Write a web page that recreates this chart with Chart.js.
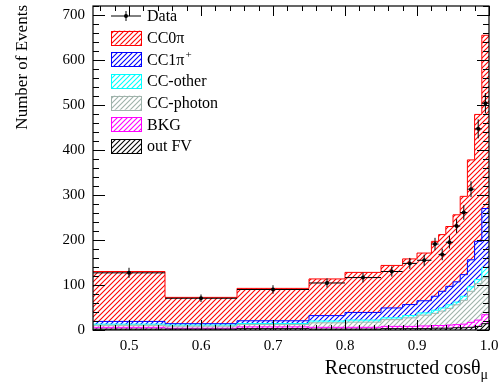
<!DOCTYPE html>
<html>
<head>
<meta charset="utf-8">
<script src="https://cdn.jsdelivr.net/npm/chart.js@4.4.1/dist/chart.umd.min.js"></script>
<style>
  html, body { margin: 0; padding: 0; background: #fff; }
</style>
</head>
<body>
<canvas id="c" width="501" height="385"></canvas>
<script>
// bin edges of the reconstructed cos(theta_mu) histogram
const binEdges = [0.45, 0.55, 0.65, 0.75, 0.80, 0.85, 0.88, 0.90, 0.92, 0.93, 0.94, 0.95, 0.96, 0.97, 0.98, 0.99, 1.00];

// MC components per bin (stacked bottom -> top)
const outFV    = [2, 2, 3, 2, 2, 3, 3, 3, 4, 4, 4, 5, 5, 6, 8, 14];
const bkg      = [4, 2, 4, 4, 4, 5, 5, 6, 6, 6, 7, 7, 8, 11, 14, 20];
const ccPhoton = [4.5, 4.5, 5, 10, 11.5, 15, 19, 24, 27, 32, 37, 44, 53, 69, 81, 82];
const ccOther  = [2.5, 2.5, 2.5, 4, 4.5, 4, 5, 5, 7, 7, 8, 6, 9, 10, 9, 23];
const cc1pi    = [6, 3, 6, 12, 17, 22, 24.5, 27, 31, 37, 41, 45, 48, 60, 85, 131];
const cc0pi    = [111, 58.5, 72, 81.5, 89, 94.5, 101.5, 106, 122, 126, 133, 149, 174, 222, 282, 385];

// observed events per bin
const dataCounts = [127, 70.5, 90, 104.5, 116.5, 130, 148, 155, 191, 168, 195, 231, 261, 313, 447, 504];

const xTicks = [0.5, 0.6, 0.7, 0.8, 0.9, 1.0];
const yTicks = [0, 100, 200, 300, 400, 500, 600, 700];

const FONT = "'Liberation Serif', 'Times New Roman', serif";

function hatch(color) {
  const t = document.createElement("canvas")
  t.width = 5
  t.height = 5
  const g = t.getContext("2d")
  g.strokeStyle = color
  g.lineWidth = 1.1
  g.beginPath()
  g.moveTo(-1, 6); g.lineTo(6, -1)
  g.moveTo(-1, 1); g.lineTo(1, -1)
  g.moveTo(4, 6); g.lineTo(6, 4)
  g.stroke()
  return g.createPattern(t, "repeat")
}

const components = [
  { label: "out FV",    vals: outFV,    color: "#000000" },
  { label: "BKG",       vals: bkg,      color: "#ff00ff" },
  { label: "CC-photon", vals: ccPhoton, color: "#9fb3ab" },
  { label: "CC-other",  vals: ccOther,  color: "#00ffff" },
  { label: "CC1π",      vals: cc1pi,    color: "#0000ff", sup: "+" },
  { label: "CC0π",      vals: cc0pi,    color: "#ff0000" },
]

const nBins = binEdges.length - 1
const running = new Array(nBins).fill(0)
const datasets = components.map((c, k) => {
  for (let i = 0; i < nBins; i++) running[i] += c.vals[i]
  const cum = running.slice()
  c.pattern = hatch(c.color)
  return {
    label: c.label,
    data: binEdges.map((e, i) => ({ x: e, y: cum[Math.min(i, nBins - 1)] })),
    stepped: true,
    borderColor: c.color,
    borderWidth: 1,
    backgroundColor: c.pattern,
    fill: k === 0 ? "origin" : "-1",
    pointRadius: 0,
    tension: 0,
  }
})

const centers = dataCounts.map((v, i) => (binEdges[i] + binEdges[i + 1]) / 2)
datasets.push({
  label: "Data",
  data: dataCounts.map((v, i) => ({ x: centers[i], y: v })),
  showLine: false,
  pointRadius: 2,
  pointBackgroundColor: "#000",
  pointBorderColor: "#000",
  borderWidth: 0,
  order: -1,
})

const rootStyle = {
  id: "rootStyle",
  afterDatasetsDraw(chart) {
    const { ctx, scales: { x, y } } = chart
    ctx.save()
    ctx.strokeStyle = "#000"
    ctx.lineWidth = 1
    dataCounts.forEach((v, i) => {
      const err = Math.sqrt(v)
      const px = x.getPixelForValue(centers[i])
      const py = y.getPixelForValue(v)
      ctx.beginPath()
      ctx.moveTo(x.getPixelForValue(binEdges[i]), py)
      ctx.lineTo(x.getPixelForValue(binEdges[i + 1]), py)
      ctx.moveTo(px, y.getPixelForValue(v - err))
      ctx.lineTo(px, y.getPixelForValue(v + err))
      ctx.stroke()
    })
    ctx.restore()
  },
  afterDraw(chart) {
    const { ctx, chartArea: a, scales: { x, y } } = chart
    ctx.save()
    ctx.strokeStyle = "#000"
    ctx.lineWidth = 1.2
    ctx.strokeRect(a.left, a.top, a.right - a.left, a.bottom - a.top)

    // inward ticks on all four sides
    ctx.lineWidth = 1
    ctx.beginPath()
    for (let v = 0; v <= 720; v += 20) {
      const py = Math.round(y.getPixelForValue(v)) + 0.5
      const len = v % 100 === 0 ? 12 : 6
      ctx.moveTo(a.left, py); ctx.lineTo(a.left + len, py)
      ctx.moveTo(a.right, py); ctx.lineTo(a.right - len, py)
    }
    for (let k = 23; k <= 50; k++) {
      const px = Math.round(x.getPixelForValue(k * 0.02)) + 0.5
      const len = k % 5 === 0 ? 10 : 5
      ctx.moveTo(px, a.bottom); ctx.lineTo(px, a.bottom - len)
      ctx.moveTo(px, a.top); ctx.lineTo(px, a.top + len)
    }
    ctx.stroke()

    // axis titles
    ctx.fillStyle = "#000"
    ctx.font = "17px " + FONT
    ctx.save()
    ctx.translate(23, 5)
    ctx.rotate(-Math.PI / 2)
    ctx.textAlign = "right"
    ctx.textBaseline = "middle"
    ctx.fillText("Number of Events", 0, 0)
    ctx.restore()

    const main = "Reconstructed cosθ"
    ctx.font = "20px " + FONT
    const w1 = ctx.measureText(main).width
    ctx.font = "14px " + FONT
    const w2 = ctx.measureText("μ").width
    const x0 = a.right - 1 - w1 - w2
    ctx.textAlign = "left"
    ctx.textBaseline = "alphabetic"
    ctx.font = "20px " + FONT
    ctx.fillText(main, x0, 374)
    ctx.font = "14px " + FONT
    ctx.fillText("μ", x0 + w1, 379)

    // legend
    const bx = 111, bw = 30, bh = 14, tx = 147, dy = 21.67
    let ry = 16
    ctx.beginPath()
    ctx.moveTo(bx, ry); ctx.lineTo(bx + bw, ry)
    ctx.moveTo(bx + bw / 2, ry - 5); ctx.lineTo(bx + bw / 2, ry + 5)
    ctx.stroke()
    ctx.beginPath()
    ctx.arc(bx + bw / 2, ry, 2, 0, Math.PI * 2)
    ctx.fill()
    ctx.font = "16px " + FONT
    ctx.textBaseline = "middle"
    ctx.fillText("Data", tx, ry + 1)
    components.slice().reverse().forEach((c) => {
      ry += dy
      ctx.fillStyle = c.pattern
      ctx.fillRect(bx, ry - bh / 2, bw, bh)
      ctx.strokeStyle = c.color
      ctx.strokeRect(bx + 0.5, Math.round(ry - bh / 2) + 0.5, bw, bh)
      ctx.fillStyle = "#000"
      ctx.font = "16px " + FONT
      ctx.fillText(c.label, tx, ry + 1)
      if (c.sup) {
        const w = ctx.measureText(c.label).width
        ctx.font = "11px " + FONT
        ctx.fillText(c.sup, tx + w + 1, ry - 4)
      }
    })
    ctx.restore()
  },
}

new Chart(document.getElementById("c"), {
  type: "line",
  data: { datasets },
  options: {
    responsive: false,
    animation: false,
    layout: { padding: { left: 0, right: 12, top: 6, bottom: 0 } },
    plugins: { legend: { display: false }, tooltip: { enabled: false } },
    scales: {
      x: {
        type: "linear",
        min: 0.45,
        max: 1.0,
        grid: { display: false, drawTicks: false },
        border: { display: false },
        afterBuildTicks: (s) => { s.ticks = xTicks.map((v) => ({ value: v })) },
        afterFit: (s) => { s.height = 55; s.paddingLeft = 0; s.paddingRight = 0 },
        ticks: {
          color: "#000",
          padding: 7,
          maxRotation: 0,
          font: { family: FONT, size: 15 },
          callback: (v) => Number(v).toFixed(1),
        },
      },
      y: {
        min: 0,
        max: 720,
        grid: { display: false, drawTicks: false },
        border: { display: false },
        afterBuildTicks: (s) => { s.ticks = yTicks.map((v) => ({ value: v })) },
        afterFit: (s) => { s.width = 93; s.paddingTop = 0; s.paddingBottom = 0 },
        ticks: {
          color: "#000",
          padding: 8,
          font: { family: FONT, size: 15 },
        },
      },
    },
  },
  plugins: [rootStyle],
})
</script>
</body>
</html>
